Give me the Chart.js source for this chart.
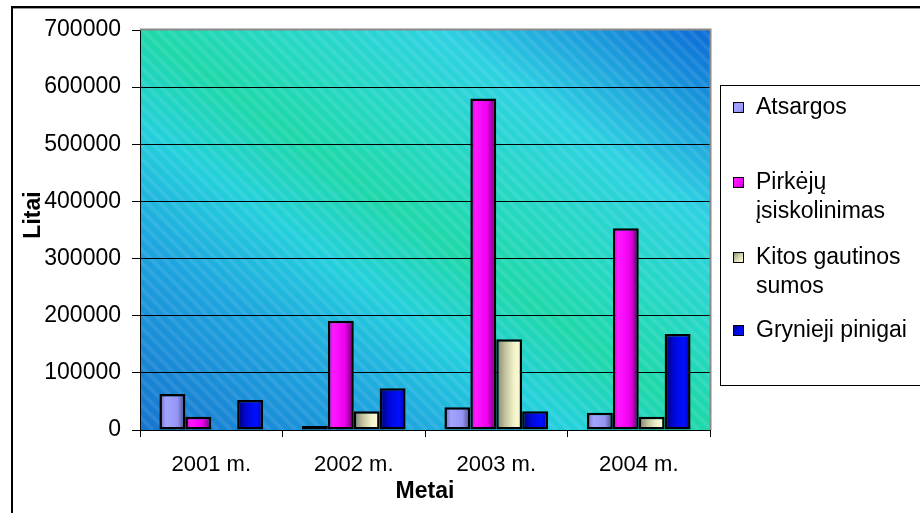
<!DOCTYPE html>
<html>
<head>
<meta charset="utf-8">
<script src="https://cdn.jsdelivr.net/npm/chart.js@4"></script>
<style>
  html, body { margin: 0; padding: 0; background: #ffffff; }
  #wrap { width: 920px; height: 513px; position: relative; }
</style>
</head>
<body>
<div id="wrap"><canvas id="chart"></canvas></div>
<script>
// Balance items per year, litai
const years = ['2001 m.', '2002 m.', '2003 m.', '2004 m.'];
const atsargos = [63000, 7000, 40000, 30000];
const pirkejuIsiskolinimas = [23000, 191000, 580000, 353000];
const kitosGautinosSumos = [0, 33000, 159000, 23000];
const grynieji = [52500, 73000, 33000, 168000];

const seriesNames = ['Atsargos', 'Pirkėjų įsiskolinimas', 'Kitos gautinos sumos', 'Grynieji pinigai'];
const legendLines = [['Atsargos'], ['Pirkėjų', 'įsiskolinimas'], ['Kitos gautinos', 'sumos'], ['Grynieji pinigai']];
const yMin = 0, yMax = 700000, yStep = 100000;
const yTitle = 'Litai';
const xTitle = 'Metai';

const FONT = '"Liberation Sans", Arial, Helvetica, sans-serif';

// shaded fills for each series (left -> right across a bar)
const shades = [
  [[0, '#6a6ab0'], [0.25, '#a4a4ff'], [0.7, '#9494f4'], [1, '#46467e']],
  [[0, '#d000d0'], [0.2, '#ff18ff'], [0.65, '#f000f0'], [1, '#600060']],
  [[0, '#80806a'], [0.35, '#c4c4a0'], [0.7, '#f4f4cc'], [1, '#fafad8']],
  [[0, '#000066'], [0.35, '#0008d8'], [0.75, '#0010ff'], [1, '#0000a8']]
];
const flat = ['#9999ff', '#ff00ff', '#e0e0b8', '#0000e0'];

function barFill(idx) {
  return (c) => {
    if (c.type !== 'data') return flat[idx];
    const el = c.chart.getDatasetMeta(c.datasetIndex).data[c.dataIndex];
    if (!el || !isFinite(el.x) || !isFinite(el.width)) return flat[idx];
    const g = c.chart.ctx.createLinearGradient(el.x - el.width / 2, 0, el.x + el.width / 2, 0);
    shades[idx].forEach(([o, col]) => g.addColorStop(o, col));
    return g;
  };
}

const values = [atsargos, pirkejuIsiskolinimas, kitosGautinosSumos, grynieji];

// plot background: diagonal green/cyan/blue blend with light hatching
const plotBackground = {
  id: 'plotBackground',
  beforeDraw(chart) {
    const { ctx, chartArea: a } = chart;
    const cx = (a.left + a.right) / 2, cy = (a.top + a.bottom) / 2;
    const w = a.right - a.left, h = a.bottom - a.top;
    const len = Math.hypot(w, h);
    const dx = h / len, dy = -w / len;
    const half = (w * h) / len;
    const g = ctx.createLinearGradient(cx - dx * half, cy - dy * half, cx + dx * half, cy + dy * half);
    g.addColorStop(0, '#1674cf');
    g.addColorStop(0.24, '#1ea6df');
    g.addColorStop(0.38, '#24d0dc');
    g.addColorStop(0.5, '#1ed8aa');
    g.addColorStop(0.62, '#26d8c4');
    g.addColorStop(0.76, '#2ed2e2');
    g.addColorStop(1, '#0a6ad6');
    ctx.save();
    ctx.beginPath();
    ctx.rect(a.left, a.top, w, h);
    ctx.clip();
    ctx.fillStyle = g;
    ctx.fillRect(a.left, a.top, w, h);
    ctx.strokeStyle = 'rgba(255,255,255,0.09)';
    ctx.lineWidth = 4;
    for (let x = a.left - h; x < a.right; x += 13) {
      ctx.beginPath();
      ctx.moveTo(x, a.top);
      ctx.lineTo(x + h, a.bottom);
      ctx.stroke();
    }
    ctx.restore();
  }
};

// frame, plot border, vertical axis title and legend box
const decorations = {
  id: 'decorations',
  afterDraw(chart) {
    const { ctx, chartArea: a } = chart;
    ctx.save();
    // plot border on top and right
    ctx.strokeStyle = '#8a8a8a';
    ctx.lineWidth = 2;
    ctx.beginPath();
    ctx.moveTo(a.left, a.top - 0.5);
    ctx.lineTo(a.right + 0.5, a.top - 0.5);
    ctx.lineTo(a.right + 0.5, a.bottom);
    ctx.stroke();

    // vertical axis title
    ctx.fillStyle = '#000';
    ctx.font = 'bold 23px ' + FONT;
    ctx.textAlign = 'center';
    ctx.textBaseline = 'middle';
    ctx.translate(34, 215);
    ctx.rotate(-Math.PI / 2);
    ctx.fillText(yTitle, 0, 0);
    ctx.setTransform(1, 0, 0, 1, 0, 0);

    // legend
    ctx.strokeStyle = '#000';
    ctx.lineWidth = 1;
    ctx.strokeRect(720.5, 85.5, 230, 300);
    const rows = [108, 183, 258, 331];
    ctx.font = '23px ' + FONT;
    ctx.textAlign = 'left';
    ctx.textBaseline = 'middle';
    legendLines.forEach((lines, i) => {
      const y = rows[i];
      const g = ctx.createLinearGradient(733, y - 6, 745, y + 6);
      shades[i].forEach(([o, col]) => g.addColorStop(o, col));
      ctx.fillStyle = g;
      ctx.fillRect(733, y - 6, 11, 11);
      ctx.strokeStyle = '#000';
      ctx.lineWidth = 1;
      ctx.strokeRect(733.5, y - 5.5, 10, 10);
      ctx.fillStyle = '#000';
      lines.forEach((t, k) => ctx.fillText(t, 756, y + k * 29));
    });

    // outer frame
    ctx.fillStyle = '#000';
    ctx.fillRect(11, 6, 909, 2);
    ctx.fillRect(11, 6, 2, 507);
    ctx.fillStyle = '#9a9a9a';
    ctx.fillRect(13, 8, 907, 1);
    ctx.restore();
  }
};

Chart.defaults.font.family = FONT;
Chart.defaults.font.size = 23;
Chart.defaults.color = '#000';

const chart = new Chart(document.getElementById('chart'), {
  type: 'bar',
  data: {
    labels: years,
    datasets: values.map((v, i) => ({
      label: seriesNames[i],
      data: v,
      backgroundColor: barFill(i),
      borderColor: '#000',
      borderWidth: 2.5,
      borderSkipped: false,
      barPercentage: 1,
      categoryPercentage: 4 / 5.5
    }))
  },
  options: {
    responsive: true,
    maintainAspectRatio: false,
    animation: false,
    devicePixelRatio: 1,
    layout: { padding: { left: 0, top: 30, right: 210, bottom: 0 } },
    plugins: { legend: { display: false }, tooltip: { enabled: false } },
    scales: {
      x: {
        grid: { display: true, drawOnChartArea: false, drawTicks: true, tickLength: 7, color: '#000', offset: true },
        border: { display: true, color: '#000', width: 1 },
        ticks: { padding: 15, font: { size: 22 }, color: '#000' },
        title: { display: true, text: xTitle, font: { size: 23, weight: 'bold' }, color: '#000', padding: { top: 0, bottom: 8 } },
        afterFit(s) { s.height = 83; }
      },
      y: {
        min: yMin,
        max: yMax,
        grid: {
          color: (c) => (c.tick && c.tick.value === yMax ? 'rgba(0,0,0,0)' : '#000'),
          tickColor: '#000',
          tickLength: 8,
          lineWidth: 1
        },
        border: { display: true, color: '#000', width: 1 },
        ticks: {
          stepSize: yStep,
          padding: 11,
          color: '#000',
          font: { size: 23 },
          callback: (v) => String(v)
        },
        afterFit(s) { s.width = 140; }
      }
    }
  },
  plugins: [plotBackground, decorations]
});
chart.update('none');
</script>
</body>
</html>
